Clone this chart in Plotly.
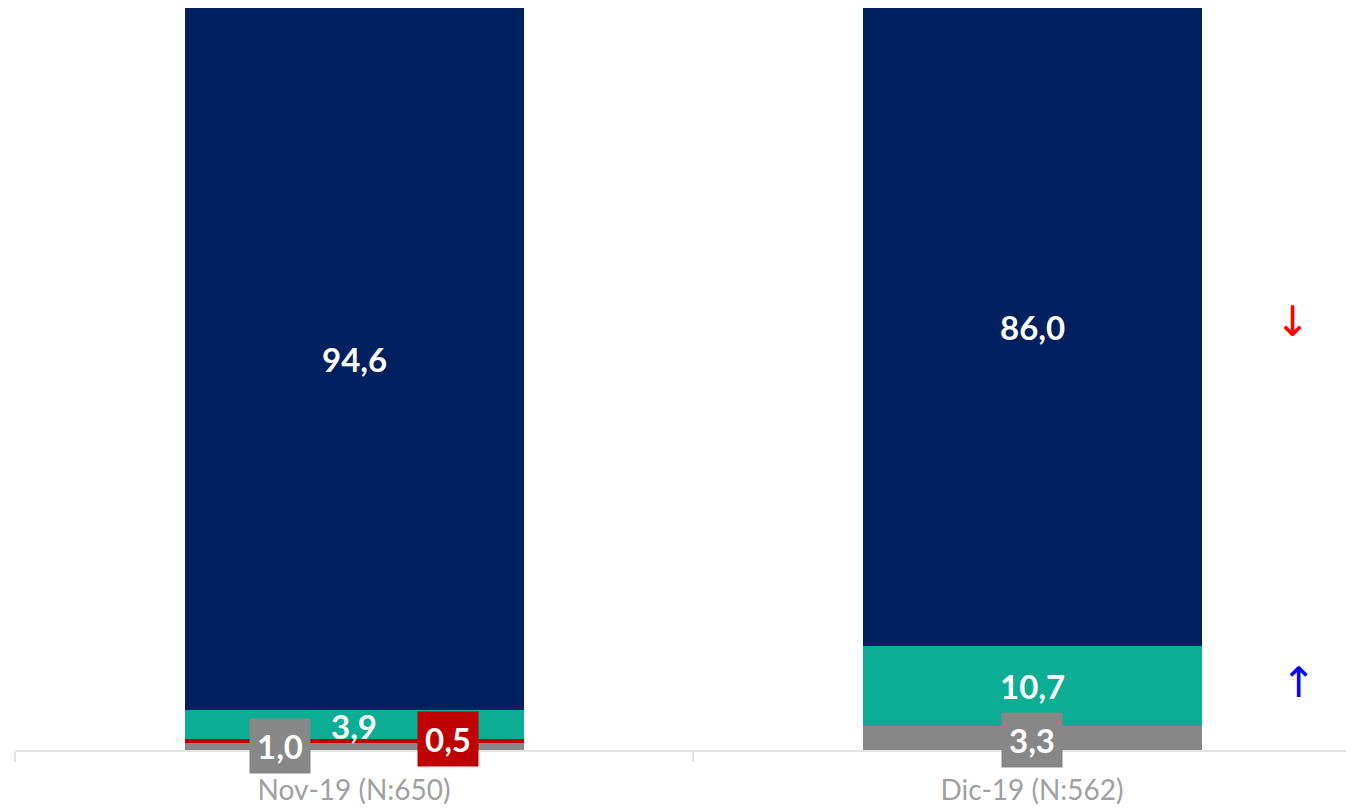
import plotly.graph_objects as go

categories = ["Nov-19 (N:650)", "Dic-19 (N:562)"]
gray_vals = [1.0, 3.3]
red_vals = [0.5, 0.0]
teal_vals = [3.9, 10.7]
navy_vals = [94.6, 86.0]

C_GRAY = "#878787"
C_RED = "#C00000"
C_TEAL = "#0BAD95"
C_NAVY = "#002060"

fig = go.Figure()
for vals, col in [(gray_vals, C_GRAY), (red_vals, C_RED), (teal_vals, C_TEAL), (navy_vals, C_NAVY)]:
    fig.add_trace(go.Bar(x=categories, y=vals, marker=dict(color=col, line=dict(width=0)),
                         showlegend=False, hoverinfo="skip"))

def fmt(v):
    return f"{v:.1f}".replace(".", ",")

lab_font = dict(family="Lato", size=33, color="white", weight="bold")
ann = []
for i, cat in enumerate(categories):
    g, r, t, n = gray_vals[i], red_vals[i], teal_vals[i], navy_vals[i]
    ann.append(dict(x=cat, y=g + r + t + n / 2, text=fmt(n), showarrow=False, font=lab_font))
    ann.append(dict(x=cat, y=g + r + t / 2, text=fmt(t), showarrow=False, font=lab_font,
                    yshift=-2 if i == 0 else 0))
    if g > 0:
        ann.append(dict(x=cat, y=g / 2, text=fmt(g), showarrow=False, font=lab_font,
                        bgcolor=C_GRAY, borderpad=7, xshift=-74 if r > 0 else 0,
                        yshift=0 if r > 0 else -2))
    if r > 0:
        ann.append(dict(x=cat, y=g + r / 2, text=fmt(r), showarrow=False, font=lab_font,
                        bgcolor=C_RED, borderpad=7, xshift=94, yshift=2))

# trend arrows for last period
last = len(categories) - 1
g, r, t, n = gray_vals[last], red_vals[last], teal_vals[last], navy_vals[last]
ann.append(dict(x=categories[last], y=g + r + t + n / 2, text="↓", showarrow=False,
                font=dict(family="DejaVu Sans", size=42, color="#FF0000"), xshift=260, yshift=6))
ann.append(dict(x=categories[last], y=g + r + t / 2, text="↑", showarrow=False,
                font=dict(family="DejaVu Sans", size=42, color="#0000FF"), xshift=266, yshift=3))

fig.update_layout(
    width=1346, height=801,
    margin=dict(l=7, r=0, t=0, b=59),
    barmode="stack", bargap=0.5,
    plot_bgcolor="white", paper_bgcolor="white",
    annotations=ann,
    xaxis=dict(type="category", range=[-0.5, -0.5 + 1339 / 678], showline=True, linecolor="#E3E3E3",
               linewidth=2, ticks="outside", tickson="boundaries", ticklen=10, tickcolor="#E3E3E3",
               tickwidth=2, ticklabelstandoff=14,
               tickfont=dict(family="Lato", size=28, color="#A0A0A0"), showgrid=False),
    yaxis=dict(range=[0, 100], visible=False, showgrid=False),
)
fig.write_html("out.html")
